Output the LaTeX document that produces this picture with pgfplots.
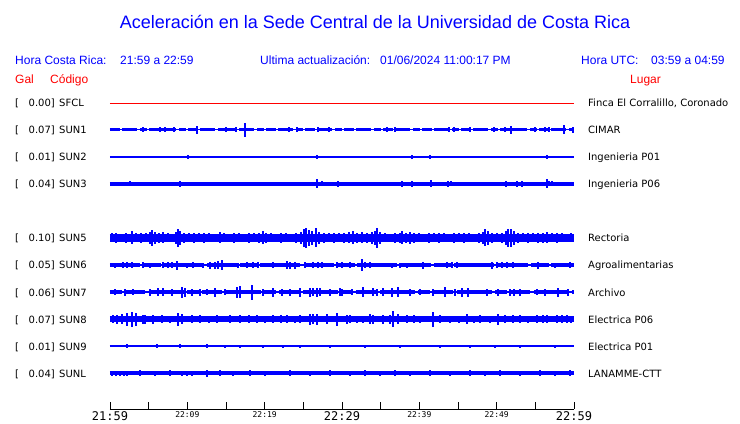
\documentclass[border=0pt]{standalone}
\usepackage{pgfplots}
\pgfplotsset{compat=1.18}
\usepackage{fontspec}
\setmainfont{DejaVu Sans}
\newfontfamily\arial{Liberation Sans}
\newfontfamily\mono{DejaVu Sans Mono}
\definecolor{sblue}{RGB}{0,0,255}
\definecolor{sred}{RGB}{255,0,0}
\newcommand\bigt{\mono\fontsize{12}{12}\selectfont}
\newcommand\smallt{\mono\fontsize{8}{8}\selectfont}
\pgfplotsset{
  spk/.style={draw=none, mark=none, forget plot,
    error bars/.cd, y dir=both, y explicit, error mark=none,
    error bar style={draw=sblue, line width=1.2pt, solid}},
  base/.style={sblue, forget plot, mark=none},
}
\tikzset{hdr/.style={anchor=base west, inner sep=0pt, font=\arial\fontsize{12}{14}\selectfont},
  lab/.style={inner sep=0pt, font=\fontsize{10}{12}\selectfont}}
\begin{document}
\begin{tikzpicture}
\begin{axis}[
  scale only axis, width=464pt, height=409pt,
  xmin=0, xmax=60, ymin=14, ymax=423,
  axis x line*=bottom, axis y line=none, ytick=\empty,
  axis line style={-, black, line width=0.8pt},
  xtick={0,5,...,60},
  xticklabels={{\bigt 21:59},{},{\smallt 22:09},{},{\smallt 22:19},{},{\bigt 22:29},{},{\smallt 22:39},{},{\smallt 22:49},{},{\bigt 22:59}},
  tick align=inside, major tick length=7pt,
  tick style={black, line width=0.8pt},
  xticklabel style={inner sep=0pt, yshift=-2.5pt, black},
  clip=false,
]
% SFCL
\addplot[sred, line width=0.9pt, forget plot, mark=none] coordinates {(0,320) (60,320)};
% SUN1
\addplot[base, line width=1pt] coordinates {(0,293) (60,293)};
\addplot[base, line width=3pt, dash pattern=on 10pt off 2pt on 15pt off 3pt on 7pt off 2pt] coordinates {(0,293) (60,293)};
\addplot[spk] table[row sep=\\, x=t, y=y, y error=a] {t y a\\
4.27 293 2.5\\ 6.47 293 2.5\\ 7.11 293 2.5\\ 8.28 293 2.5\\ 11.25 293 4\\ 15.00 293 2.5\\ 16.29 293 2.5\\ 17.46 293 7\\
23.15 293 2.5\\ 24.18 293 2.5\\ 26.90 293 2.5\\ 28.32 293 2.5\\ 35.82 293 2.5\\ 36.85 293 2.5\\ 43.84 293 2.5\\ 44.48 293 2.5\\
46.55 293 2.5\\ 49.66 293 2.5\\ 51.08 293 2.5\\ 51.85 293 4\\ 54.96 293 2.5\\ 56.25 293 2.5\\ 56.77 293 2.5\\ 58.71 293 4.5\\ 59.87 293 3\\};
% SUN2
\addplot[base, line width=1.1pt] coordinates {(0,266) (60,266)};
\addplot[spk] table[row sep=\\, x=t, y=y, y error=a] {t y a\\
10.09 266 1.6\\ 26.77 266 1.6\\ 39.05 266 1.6\\ 41.38 266 1.6\\ 56.51 266 1.6\\};
% SUN3
\addplot[base, line width=3.5pt] coordinates {(0,239) (60,239)};
\addplot[spk] table[row sep=\\, x=t, y=y, y error=a] {t y a\\
2.59 239 2.5\\ 9.05 239 3\\ 26.77 239 4.5\\ 27.41 239 2.5\\ 29.48 239 3\\ 37.76 239 3\\ 39.05 239 3\\ 41.51 239 3.5\\
43.71 239 3\\ 44.10 239 2.5\\ 51.21 239 3\\ 52.63 239 3\\ 53.28 239 3\\ 56.51 239 4.5\\ 56.77 239 2.5\\ 57.16 239 2.5\\};
% SUN5
\addplot[base, line width=8pt] coordinates {(0,185) (60,185)};
\addplot[spk] table[row sep=\\, x=t, y=y, y error=a] {t y a\\
0.26 185 4.5\\ 0.78 185 5\\ 1.42 185 4.2\\ 2.07 185 5\\ 2.84 185 6.5\\ 3.36 185 4.5\\ 4.01 185 5\\ 4.66 185 4.5\\
5.17 185 6\\ 5.43 185 8\\ 5.82 185 6\\ 6.34 185 5\\ 6.85 185 5.5\\ 7.50 185 4.5\\ 8.02 185 4.2\\ 8.53 185 6\\
8.79 185 9\\ 9.05 185 7\\ 9.57 185 5\\ 10.22 185 4.5\\ 10.86 185 5\\ 11.51 185 4.5\\ 12.16 185 5\\ 12.80 185 4.5\\
13.45 185 4.2\\ 14.22 185 5.5\\ 14.74 185 4.5\\ 15.39 185 4.2\\ 16.03 185 5\\ 16.68 185 4.5\\ 17.33 185 4.2\\ 17.97 185 5\\
18.62 185 4.5\\ 19.27 185 5\\ 19.78 185 6.5\\ 20.17 185 5\\ 20.82 185 4.5\\ 21.47 185 4.2\\ 22.11 185 5\\ 22.76 185 4.5\\
23.41 185 4.2\\ 24.05 185 5\\ 24.70 185 6\\ 25.09 185 9\\ 25.34 185 10\\ 25.73 185 8\\ 26.12 185 7\\ 26.64 185 9.5\\
27.03 185 6\\ 27.67 185 5\\ 28.32 185 4.5\\ 28.97 185 5\\ 29.61 185 4.5\\ 30.26 185 5\\ 30.91 185 5.5\\ 31.42 185 6.5\\
31.94 185 5\\ 32.59 185 5.5\\ 33.23 185 5\\ 33.88 185 6\\ 34.27 185 7\\ 34.53 185 10\\ 34.91 185 6\\ 35.56 185 4.5\\
36.21 185 4.2\\ 36.85 185 5\\ 37.50 185 5\\ 37.76 185 6.5\\ 38.28 185 5\\ 38.79 185 6\\ 39.31 185 5\\ 39.96 185 4.5\\
40.60 185 4.2\\ 41.25 185 5\\ 41.90 185 4.5\\ 42.54 185 5\\ 43.19 185 4.5\\ 43.84 185 4.2\\ 44.48 185 5\\ 45.13 185 4.5\\
45.78 185 5\\ 46.42 185 4.5\\ 47.07 185 4.2\\ 47.72 185 5\\ 48.23 185 6\\ 48.49 185 8.5\\ 48.88 185 7\\ 49.40 185 5\\
50.04 185 4.5\\ 50.69 185 5\\ 51.21 185 7\\ 51.47 185 9\\ 51.85 185 9\\ 52.24 185 7\\ 52.76 185 5\\ 53.41 185 4.5\\
54.05 185 5\\ 54.70 185 4.5\\ 55.34 185 5\\ 55.99 185 5\\ 56.51 185 5.5\\ 57.16 185 4.5\\ 57.80 185 5\\ 58.45 185 4.5\\
59.10 185 4.2\\ 59.61 185 4.5\\};
% SUN6
\addplot[base, line width=1.5pt] coordinates {(0,158) (60,158)};
\addplot[base, line width=3.5pt, dash pattern=on 30pt off 3pt on 18pt off 2pt on 40pt off 4pt] coordinates {(0,158) (60,158)};
\addplot[spk] table[row sep=\\, x=t, y=y, y error=a] {t y a\\
0.65 158 2.5\\ 1.68 158 3\\ 2.20 158 3\\ 2.84 158 3\\ 4.27 158 3\\ 5.17 158 2.5\\ 6.85 158 3\\ 7.50 158 3\\
8.02 158 3\\ 8.66 158 4.5\\ 9.96 158 2.5\\ 10.73 158 3\\ 12.03 158 2.5\\ 12.93 158 3.5\\ 13.58 158 3.5\\ 13.97 158 4\\
14.48 158 5\\ 16.55 158 2.5\\ 17.72 158 3\\ 18.49 158 3\\ 19.14 158 3\\ 21.08 158 3\\ 22.89 158 4\\ 23.28 158 3.5\\
23.92 158 3.5\\ 25.22 158 3\\ 26.25 158 3\\ 26.90 158 3\\ 27.41 158 3\\ 29.35 158 3\\ 30.00 158 3\\ 31.03 158 3\\
32.59 158 5.5\\ 32.97 158 3\\ 33.62 158 3\\ 36.47 158 2.5\\ 37.50 158 2.5\\ 38.41 158 2.5\\ 40.47 158 3.5\\ 43.58 158 3\\
44.22 158 3\\ 44.87 158 3\\ 49.40 158 3.5\\ 50.04 158 3\\ 50.69 158 3\\ 51.34 158 3\\ 52.11 158 3\\ 55.34 158 3.5\\
57.54 158 2.5\\ 59.48 158 3\\};
% SUN7
\addplot[base, line width=1.5pt] coordinates {(0,131) (60,131)};
\addplot[base, line width=3.5pt, dash pattern=on 12pt off 3pt on 20pt off 4pt on 35pt off 3pt] coordinates {(0,131) (60,131)};
\addplot[spk] table[row sep=\\, x=t, y=y, y error=a] {t y a\\
0.65 131 3\\ 1.94 131 3.5\\ 2.97 131 3\\ 5.17 131 3.5\\ 6.21 131 4\\ 6.85 131 4\\ 8.02 131 3.5\\ 9.31 131 5.5\\
9.70 131 4.5\\ 10.60 131 3.5\\ 11.64 131 3.5\\ 12.54 131 3\\ 13.58 131 4.5\\ 14.87 131 3\\ 16.42 131 5.5\\ 16.81 131 6\\
18.36 131 7.5\\ 19.78 131 3.5\\ 21.08 131 4.5\\ 22.24 131 3.5\\ 23.28 131 3.5\\ 24.57 131 4.5\\ 25.86 131 4.5\\ 26.25 131 4\\
26.77 131 4.5\\ 27.16 131 4\\ 28.45 131 3.5\\ 29.74 131 4\\ 30.00 131 3.5\\ 31.29 131 3\\ 32.72 131 5\\ 34.01 131 4\\
34.53 131 3.5\\ 35.30 131 4\\ 36.47 131 4.5\\ 37.24 131 5\\ 38.79 131 3.5\\ 40.09 131 3\\ 41.77 131 3.5\\ 43.32 131 5\\
44.61 131 3.5\\ 45.52 131 4.5\\ 46.29 131 4.5\\ 48.75 131 3.5\\ 50.17 131 3.5\\ 51.72 131 3.5\\ 52.24 131 3.5\\ 53.02 131 3.5\\
55.22 131 3\\ 56.25 131 3.5\\ 57.93 131 4.5\\ 59.23 131 3.5\\};
% SUN8
\addplot[base, line width=5.5pt] coordinates {(0,104) (60,104)};
\addplot[spk] table[row sep=\\, x=t, y=y, y error=a] {t y a\\
0.39 104 4\\ 0.91 104 4.5\\ 1.55 104 5\\ 2.20 104 6.5\\ 2.84 104 7.5\\ 3.36 104 6.5\\ 4.27 104 4.5\\ 4.53 104 4.5\\
5.56 104 4.5\\ 6.72 104 4\\ 7.76 104 3.5\\ 8.79 104 6.5\\ 9.31 104 5\\ 10.60 104 4\\ 11.64 104 4\\ 12.80 104 3.5\\
13.84 104 4\\ 15.52 104 4\\ 16.81 104 4\\ 17.97 104 4\\ 19.01 104 4\\ 20.04 104 3.5\\ 21.08 104 4\\ 22.11 104 4\\
22.89 104 4\\ 23.92 104 3.5\\ 24.57 104 4\\ 25.86 104 5.5\\ 26.25 104 5\\ 26.77 104 5.5\\ 28.06 104 5\\ 29.35 104 6.5\\
30.65 104 4.5\\ 31.03 104 4\\ 31.94 104 3.5\\ 32.72 104 3.5\\ 33.62 104 5\\ 34.01 104 4.5\\ 35.30 104 4.5\\ 36.21 104 4.5\\
36.59 104 8\\ 37.24 104 5\\ 38.41 104 4\\ 39.31 104 4\\ 40.09 104 3.5\\ 41.77 104 7.5\\ 42.67 104 4\\ 43.97 104 3.5\\
45.13 104 3.5\\ 46.16 104 5\\ 47.07 104 3.5\\ 47.84 104 4\\ 49.14 104 3.5\\ 50.17 104 5.5\\ 51.08 104 4\\ 52.11 104 4\\
53.02 104 4\\ 54.05 104 3.5\\ 55.22 104 4\\ 55.99 104 4\\ 56.51 104 4\\ 57.80 104 4\\ 58.45 104 4\\ 59.10 104 4\\
59.61 104 3.5\\};
% SUN9
\addplot[base, line width=1.1pt] coordinates {(0,77) (60,77)};
\addplot[base, line width=2.5pt, dash pattern=on 6pt off 3pt on 10pt off 4pt on 4pt off 6pt on 8pt off 30pt] coordinates {(0,77) (12,77)};
\addplot[spk] table[row sep=\\, x=t, y=y, y error=a] {t y a\\
2.20 77 1.6\\ 6.08 77 1.6\\ 9.05 77 1.6\\ 12.54 77 1.6\\ 14.87 77 1.5\\ 16.81 77 1.5\\ 19.78 77 1.5\\
22.37 77 1.5\\ 24.57 77 1.5\\ 28.45 77 1.5\\ 32.97 77 1.5\\ 37.50 77 1.5\\ 42.67 77 1.5\\ 46.55 77 1.5\\ 49.78 77 1.5\\
53.02 77 1.5\\ 57.54 77 1.5\\};
% SUNL
\addplot[base, line width=3.5pt] coordinates {(0,50) (60,50)};
\addplot[spk] table[row sep=\\, x=t, y=y, y error=a] {t y a\\
0.26 50 2.5\\ 0.78 50 2.5\\ 1.29 50 2.5\\ 1.81 50 2.5\\ 2.20 50 2.5\\ 3.88 50 3\\ 5.82 50 2.5\\ 7.76 50 3\\
9.31 50 2.5\\ 9.96 50 2.5\\ 10.60 50 2.5\\ 12.54 50 3.5\\ 14.22 50 3\\ 15.91 50 2.5\\ 18.10 50 3\\ 20.04 50 2.5\\
23.28 50 3\\ 25.86 50 2.5\\ 28.45 50 3\\ 31.03 50 2.5\\ 32.97 50 3\\ 34.91 50 2.5\\ 36.85 50 3\\ 38.79 50 2.5\\
41.38 50 3\\ 43.97 50 2.5\\ 46.55 50 3\\ 48.49 50 2.5\\ 50.43 50 3\\ 53.02 50 2.5\\ 55.60 50 3\\ 57.54 50 2.5\\
59.48 50 3\\};
% titles and headers
\node[anchor=base, inner sep=0pt, font=\arial\fontsize{18}{20}\selectfont, text=sblue] at (axis cs:34.27,394.5) {Aceleración en la Sede Central de la Universidad de Costa Rica};
\node[hdr, text=sblue] at (axis cs:-12.28,358) {Hora Costa Rica:};
\node[hdr, text=sblue] at (axis cs:1.29,358) {21:59 a 22:59};
\node[hdr, text=sblue] at (axis cs:19.40,358) {Ultima actualización:};
\node[hdr, text=sblue] at (axis cs:34.91,358) {01/06/2024 11:00:17 PM};
\node[hdr, text=sblue] at (axis cs:60.91,358) {Hora UTC:};
\node[hdr, text=sblue] at (axis cs:69.96,358) {03:59 a 04:59};
\node[hdr, text=sred] at (axis cs:-12.28,339.5) {Gal};
\node[hdr, text=sred] at (axis cs:-7.76,339.5) {Código};
\node[hdr, text=sred] at (axis cs:67.24,339.5) {Lugar};
% station labels
\node[lab, anchor=base west] at (axis cs:-12.28,316) {[};
\node[lab, anchor=base east] at (axis cs:-7.11,316) {0.00]};
\node[lab, anchor=base west] at (axis cs:-6.59,316) {SFCL};
\node[lab, anchor=base west] at (axis cs:61.81,316) {Finca El Corralillo, Coronado};
\node[lab, anchor=base west] at (axis cs:-12.28,289) {[};
\node[lab, anchor=base east] at (axis cs:-7.11,289) {0.07]};
\node[lab, anchor=base west] at (axis cs:-6.59,289) {SUN1};
\node[lab, anchor=base west] at (axis cs:61.81,289) {CIMAR};
\node[lab, anchor=base west] at (axis cs:-12.28,262) {[};
\node[lab, anchor=base east] at (axis cs:-7.11,262) {0.01]};
\node[lab, anchor=base west] at (axis cs:-6.59,262) {SUN2};
\node[lab, anchor=base west] at (axis cs:61.81,262) {Ingenieria P01};
\node[lab, anchor=base west] at (axis cs:-12.28,235) {[};
\node[lab, anchor=base east] at (axis cs:-7.11,235) {0.04]};
\node[lab, anchor=base west] at (axis cs:-6.59,235) {SUN3};
\node[lab, anchor=base west] at (axis cs:61.81,235) {Ingenieria P06};
\node[lab, anchor=base west] at (axis cs:-12.28,181) {[};
\node[lab, anchor=base east] at (axis cs:-7.11,181) {0.10]};
\node[lab, anchor=base west] at (axis cs:-6.59,181) {SUN5};
\node[lab, anchor=base west] at (axis cs:61.81,181) {Rectoria};
\node[lab, anchor=base west] at (axis cs:-12.28,154) {[};
\node[lab, anchor=base east] at (axis cs:-7.11,154) {0.05]};
\node[lab, anchor=base west] at (axis cs:-6.59,154) {SUN6};
\node[lab, anchor=base west] at (axis cs:61.81,154) {Agroalimentarias};
\node[lab, anchor=base west] at (axis cs:-12.28,127) {[};
\node[lab, anchor=base east] at (axis cs:-7.11,127) {0.06]};
\node[lab, anchor=base west] at (axis cs:-6.59,127) {SUN7};
\node[lab, anchor=base west] at (axis cs:61.81,127) {Archivo};
\node[lab, anchor=base west] at (axis cs:-12.28,100) {[};
\node[lab, anchor=base east] at (axis cs:-7.11,100) {0.07]};
\node[lab, anchor=base west] at (axis cs:-6.59,100) {SUN8};
\node[lab, anchor=base west] at (axis cs:61.81,100) {Electrica P06};
\node[lab, anchor=base west] at (axis cs:-12.28,73) {[};
\node[lab, anchor=base east] at (axis cs:-7.11,73) {0.01]};
\node[lab, anchor=base west] at (axis cs:-6.59,73) {SUN9};
\node[lab, anchor=base west] at (axis cs:61.81,73) {Electrica P01};
\node[lab, anchor=base west] at (axis cs:-12.28,46) {[};
\node[lab, anchor=base east] at (axis cs:-7.11,46) {0.04]};
\node[lab, anchor=base west] at (axis cs:-6.59,46) {SUNL};
\node[lab, anchor=base west] at (axis cs:61.81,46) {LANAMME-CTT};
\coordinate (BL) at (axis cs:-14.2241,0);
\coordinate (TR) at (axis cs:81.4655,423);
\end{axis}
\pgfresetboundingbox
\path[use as bounding box] (BL) rectangle (TR);
\end{tikzpicture}
\end{document}
